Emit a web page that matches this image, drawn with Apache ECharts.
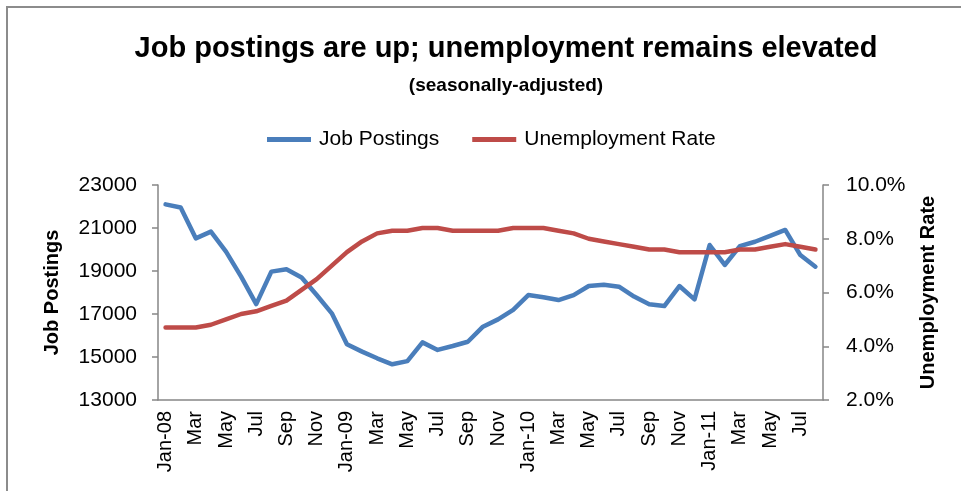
<!DOCTYPE html>
<html>
<head>
<meta charset="utf-8">
<title>Job postings and unemployment</title>
<script src="https://cdn.jsdelivr.net/npm/echarts@6/dist/echarts.min.js"></script>
<style>
  html, body { margin: 0; padding: 0; background: #fff; }
  #chart { width: 961px; height: 491px; }
</style>
</head>
<body>
<div id="chart"></div>
<script>
var months = [
  "Jan-08", "Feb", "Mar", "Apr", "May", "Jun", "Jul", "Aug", "Sep", "Oct", "Nov", "Dec",
  "Jan-09", "Feb", "Mar", "Apr", "May", "Jun", "Jul", "Aug", "Sep", "Oct", "Nov", "Dec",
  "Jan-10", "Feb", "Mar", "Apr", "May", "Jun", "Jul", "Aug", "Sep", "Oct", "Nov", "Dec",
  "Jan-11", "Feb", "Mar", "Apr", "May", "Jun", "Jul", "Aug"
];
var jobPostings = [
  22100, 21950, 20520, 20830, 19900, 18740, 17460, 18970, 19080, 18700, 17880, 17030,
  15590, 15250, 14940, 14660, 14810, 15680, 15330, 15510, 15710, 16410, 16750, 17190,
  17880, 17780, 17650, 17880, 18300, 18360, 18270, 17810, 17450, 17370, 18300, 17680,
  20210, 19280, 20160, 20360, 20630, 20910, 19740, 19200
];
var unemploymentRate = [
  4.7, 4.7, 4.7, 4.8, 5.0, 5.2, 5.3, 5.5, 5.7, 6.1, 6.5, 7.0,
  7.5, 7.9, 8.2, 8.3, 8.3, 8.4, 8.4, 8.3, 8.3, 8.3, 8.3, 8.4,
  8.4, 8.4, 8.3, 8.2, 8.0, 7.9, 7.8, 7.7, 7.6, 7.6, 7.5, 7.5,
  7.5, 7.5, 7.6, 7.6, 7.7, 7.8, 7.7, 7.6
];

var font = "Liberation Sans, Arial, sans-serif";
var axisGray = "#868686";

var myChart = echarts.init(document.getElementById("chart"), null, { renderer: "canvas" });
var option = {
  animation: false,
  textStyle: { fontFamily: font },
  graphic: [
    {
      // chart frame (only left and top edges fall inside the picture)
      type: "rect",
      shape: { x: 7, y: 7, width: 1100, height: 600 },
      style: { fill: "none", stroke: "#8c8c8c", lineWidth: 2 },
      silent: true
    }
  ],
  title: [
    {
      text: "Job postings are up; unemployment remains elevated",
      left: 501,
      textAlign: "center",
      top: 29,
      textStyle: { fontFamily: font, fontSize: 29, fontWeight: "bold", color: "#000" }
    },
    {
      text: "(seasonally-adjusted)",
      left: 501,
      textAlign: "center",
      top: 71,
      textStyle: { fontFamily: font, fontSize: 19, fontWeight: "bold", color: "#000" }
    }
  ],
  legend: {
    left: 262,
    top: 124,
    itemWidth: 44,
    itemHeight: 5,
    itemGap: 33,
    icon: "rect",
    textStyle: { fontFamily: font, fontSize: 21, color: "#000", padding: [0, 0, 0, 3] },
    data: ["Job Postings", "Unemployment Rate"]
  },
  grid: { left: 158, right: 138, top: 185, bottom: 91, containLabel: false },
  xAxis: {
    type: "category",
    data: months,
    boundaryGap: true,
    axisLine: { lineStyle: { color: axisGray, width: 1.5 } },
    axisTick: { interval: 0, length: 5, lineStyle: { color: axisGray, width: 1.5 } },
    axisLabel: {
      interval: 1,
      rotate: 90,
      margin: 11,
      fontSize: 20,
      color: "#000",
      fontFamily: font
    }
  },
  yAxis: [
    {
      type: "value",
      name: "Job Postings",
      nameLocation: "middle",
      nameGap: 96,
      nameTextStyle: { fontFamily: font, fontSize: 20, fontWeight: "bold", color: "#000" },
      min: 13000,
      max: 23000,
      interval: 2000,
      axisLine: { show: true, lineStyle: { color: axisGray, width: 1.5 } },
      axisTick: { show: true, length: 6, lineStyle: { color: axisGray, width: 1.5 } },
      axisLabel: {
        margin: 21,
        fontSize: 21,
        color: "#000",
        fontFamily: font,
        formatter: function (v) { return String(v); }
      },
      splitLine: { show: false }
    },
    {
      type: "value",
      name: "Unemployment Rate",
      nameLocation: "middle",
      nameGap: 95,
      nameRotate: 90,
      nameTextStyle: { fontFamily: font, fontSize: 20, fontWeight: "bold", color: "#000" },
      position: "right",
      min: 2,
      max: 10,
      interval: 2,
      axisLine: { show: true, lineStyle: { color: axisGray, width: 1.5 } },
      axisTick: { show: true, length: 6, lineStyle: { color: axisGray, width: 1.5 } },
      axisLabel: {
        margin: 23,
        fontSize: 21,
        color: "#000",
        fontFamily: font,
        formatter: function (v) { return v.toFixed(1) + "%"; }
      },
      splitLine: { show: false }
    }
  ],
  series: [
    {
      name: "Job Postings",
      type: "line",
      yAxisIndex: 0,
      data: jobPostings,
      symbol: "none",
      itemStyle: { color: "#4a7ebb" },
      lineStyle: { color: "#4a7ebb", width: 4.5, join: "round", cap: "round" }
    },
    {
      name: "Unemployment Rate",
      type: "line",
      yAxisIndex: 1,
      data: unemploymentRate,
      symbol: "none",
      itemStyle: { color: "#be4b48" },
      lineStyle: { color: "#be4b48", width: 4.5, join: "round", cap: "round" }
    }
  ]
};
myChart.setOption(option);
window.addEventListener("resize", function () {
  myChart.resize();
});
</script>
</body>
</html>
